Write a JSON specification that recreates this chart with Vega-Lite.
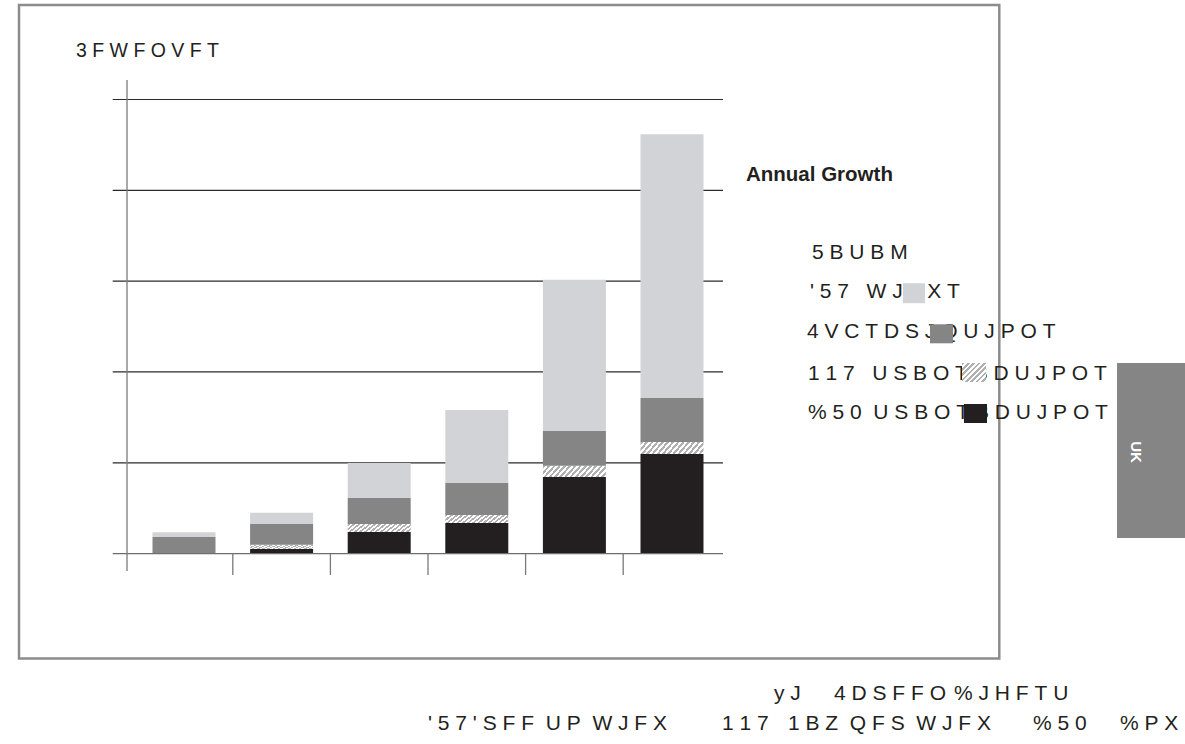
{
  "$schema": "https://vega.github.io/schema/vega-lite/v6.json",
  "width": 1185,
  "height": 744,
  "autosize": {"type": "none"},
  "padding": 0,
  "background": "white",
  "config": {"view": {"stroke": null}, "font": "Liberation Sans", "text": {"font": "Liberation Sans", "color": "#231f20"}},
  "datasets": {
    "revenues": [
      {"period": 1, "series": "DTO", "rank": 1, "value": 0},
      {"period": 1, "series": "PPV", "rank": 2, "value": 0},
      {"period": 1, "series": "Subscriptions", "rank": 3, "value": 1.82},
      {"period": 1, "series": "FTV", "rank": 4, "value": 0.52},
      {"period": 2, "series": "DTO", "rank": 1, "value": 0.5},
      {"period": 2, "series": "PPV", "rank": 2, "value": 0.47},
      {"period": 2, "series": "Subscriptions", "rank": 3, "value": 2.28},
      {"period": 2, "series": "FTV", "rank": 4, "value": 1.25},
      {"period": 3, "series": "DTO", "rank": 1, "value": 2.37},
      {"period": 3, "series": "PPV", "rank": 2, "value": 0.88},
      {"period": 3, "series": "Subscriptions", "rank": 3, "value": 2.87},
      {"period": 3, "series": "FTV", "rank": 4, "value": 3.86},
      {"period": 4, "series": "DTO", "rank": 1, "value": 3.36},
      {"period": 4, "series": "PPV", "rank": 2, "value": 0.88},
      {"period": 4, "series": "Subscriptions", "rank": 3, "value": 3.53},
      {"period": 4, "series": "FTV", "rank": 4, "value": 8.05},
      {"period": 5, "series": "DTO", "rank": 1, "value": 8.43},
      {"period": 5, "series": "PPV", "rank": 2, "value": 1.25},
      {"period": 5, "series": "Subscriptions", "rank": 3, "value": 3.83},
      {"period": 5, "series": "FTV", "rank": 4, "value": 16.65},
      {"period": 6, "series": "DTO", "rank": 1, "value": 10.97},
      {"period": 6, "series": "PPV", "rank": 2, "value": 1.32},
      {"period": 6, "series": "Subscriptions", "rank": 3, "value": 4.85},
      {"period": 6, "series": "FTV", "rank": 4, "value": 29.03}
    ]
  },
  "layer": [
    {
      "data": {"values": [{}]},
      "mark": {"type": "rect", "fillOpacity": 0, "stroke": "#8c8c8c", "strokeWidth": 2.5},
      "encoding": {
        "x": {"datum": -0.6905, "type": "quantitative", "scale": {"domain": [-0.8852, 11.2562], "nice": false, "zero": false, "padding": 0}, "axis": null},
        "x2": {"datum": 9.3535},
        "y": {"datum": 60.405, "type": "quantitative", "scale": {"domain": [-20.965, 60.956], "nice": false, "zero": false, "padding": 0}, "axis": null},
        "y2": {"datum": -11.55}
      }
    },
    {
      "data": {"values": [{"g": 10}, {"g": 20}, {"g": 30}, {"g": 40}, {"g": 50}]},
      "mark": {"type": "rule", "color": "#2a2a2a", "strokeWidth": 1.2},
      "encoding": {
        "x": {"datum": 0.2695, "type": "quantitative", "scale": {"domain": [-0.8852, 11.2562], "nice": false, "zero": false, "padding": 0}, "axis": null},
        "x2": {"datum": 6.5226},
        "y": {"field": "g", "type": "quantitative", "scale": {"domain": [-20.965, 60.956], "nice": false, "zero": false, "padding": 0}, "axis": null}
      }
    },
    {
      "data": {"name": "revenues"},
      "transform": [{"stack": "value", "groupby": ["period"], "sort": [{"field": "rank", "order": "ascending"}], "as": ["v0", "v1"]}],
      "layer": [
        {
          "transform": [{"filter": "datum.series === 'DTO'"}],
          "mark": {"type": "bar", "width": 63, "color": "#231f20"},
          "encoding": {
            "x": {"field": "period", "type": "quantitative", "scale": {"domain": [-0.8852, 11.2562], "nice": false, "zero": false, "padding": 0}, "axis": null},
            "y": {"field": "v0", "type": "quantitative", "scale": {"domain": [-20.965, 60.956], "nice": false, "zero": false, "padding": 0}, "axis": null},
            "y2": {"field": "v1"}
          }
        },
        {
          "transform": [{"filter": "datum.series === 'PPV'"}],
          "mark": {"type": "bar", "width": 63, "color": {"gradient": "linear", "x1": 0, "y1": 0, "x2": 1.131, "y2": 0.181, "stops": [
            {"offset": 0, "color": "#b0b0b0"}, {"offset": 0.0357, "color": "#b0b0b0"}, {"offset": 0.0357, "color": "#ffffff"}, {"offset": 0.0714, "color": "#ffffff"},
            {"offset": 0.0714, "color": "#b0b0b0"}, {"offset": 0.1071, "color": "#b0b0b0"}, {"offset": 0.1071, "color": "#ffffff"}, {"offset": 0.1429, "color": "#ffffff"},
            {"offset": 0.1429, "color": "#b0b0b0"}, {"offset": 0.1786, "color": "#b0b0b0"}, {"offset": 0.1786, "color": "#ffffff"}, {"offset": 0.2143, "color": "#ffffff"},
            {"offset": 0.2143, "color": "#b0b0b0"}, {"offset": 0.25, "color": "#b0b0b0"}, {"offset": 0.25, "color": "#ffffff"}, {"offset": 0.2857, "color": "#ffffff"},
            {"offset": 0.2857, "color": "#b0b0b0"}, {"offset": 0.3214, "color": "#b0b0b0"}, {"offset": 0.3214, "color": "#ffffff"}, {"offset": 0.3571, "color": "#ffffff"},
            {"offset": 0.3571, "color": "#b0b0b0"}, {"offset": 0.3929, "color": "#b0b0b0"}, {"offset": 0.3929, "color": "#ffffff"}, {"offset": 0.4286, "color": "#ffffff"},
            {"offset": 0.4286, "color": "#b0b0b0"}, {"offset": 0.4643, "color": "#b0b0b0"}, {"offset": 0.4643, "color": "#ffffff"}, {"offset": 0.5, "color": "#ffffff"},
            {"offset": 0.5, "color": "#b0b0b0"}, {"offset": 0.5357, "color": "#b0b0b0"}, {"offset": 0.5357, "color": "#ffffff"}, {"offset": 0.5714, "color": "#ffffff"},
            {"offset": 0.5714, "color": "#b0b0b0"}, {"offset": 0.6071, "color": "#b0b0b0"}, {"offset": 0.6071, "color": "#ffffff"}, {"offset": 0.6429, "color": "#ffffff"},
            {"offset": 0.6429, "color": "#b0b0b0"}, {"offset": 0.6786, "color": "#b0b0b0"}, {"offset": 0.6786, "color": "#ffffff"}, {"offset": 0.7143, "color": "#ffffff"},
            {"offset": 0.7143, "color": "#b0b0b0"}, {"offset": 0.75, "color": "#b0b0b0"}, {"offset": 0.75, "color": "#ffffff"}, {"offset": 0.7857, "color": "#ffffff"},
            {"offset": 0.7857, "color": "#b0b0b0"}, {"offset": 0.8214, "color": "#b0b0b0"}, {"offset": 0.8214, "color": "#ffffff"}, {"offset": 0.8571, "color": "#ffffff"},
            {"offset": 0.8571, "color": "#b0b0b0"}, {"offset": 0.8929, "color": "#b0b0b0"}, {"offset": 0.8929, "color": "#ffffff"}, {"offset": 0.9286, "color": "#ffffff"},
            {"offset": 0.9286, "color": "#b0b0b0"}, {"offset": 0.9643, "color": "#b0b0b0"}, {"offset": 0.9643, "color": "#ffffff"}, {"offset": 1, "color": "#ffffff"}
          ]}},
          "encoding": {
            "x": {"field": "period", "type": "quantitative", "scale": {"domain": [-0.8852, 11.2562], "nice": false, "zero": false, "padding": 0}, "axis": null},
            "y": {"field": "v0", "type": "quantitative", "scale": {"domain": [-20.965, 60.956], "nice": false, "zero": false, "padding": 0}, "axis": null},
            "y2": {"field": "v1"}
          }
        },
        {
          "transform": [{"filter": "datum.series === 'Subscriptions'"}],
          "mark": {"type": "bar", "width": 63, "color": "#858585"},
          "encoding": {
            "x": {"field": "period", "type": "quantitative", "scale": {"domain": [-0.8852, 11.2562], "nice": false, "zero": false, "padding": 0}, "axis": null},
            "y": {"field": "v0", "type": "quantitative", "scale": {"domain": [-20.965, 60.956], "nice": false, "zero": false, "padding": 0}, "axis": null},
            "y2": {"field": "v1"}
          }
        },
        {
          "transform": [{"filter": "datum.series === 'FTV'"}],
          "mark": {"type": "bar", "width": 63, "color": "#d2d3d6"},
          "encoding": {
            "x": {"field": "period", "type": "quantitative", "scale": {"domain": [-0.8852, 11.2562], "nice": false, "zero": false, "padding": 0}, "axis": null},
            "y": {"field": "v0", "type": "quantitative", "scale": {"domain": [-20.965, 60.956], "nice": false, "zero": false, "padding": 0}, "axis": null},
            "y2": {"field": "v1"}
          }
        }
      ]
    },
    {
      "data": {"values": [{"g": 0}]},
      "mark": {"type": "rule", "color": "#6e6e6e", "strokeWidth": 1.3},
      "encoding": {
        "x": {"datum": 0.2695, "type": "quantitative", "scale": {"domain": [-0.8852, 11.2562], "nice": false, "zero": false, "padding": 0}, "axis": null},
        "x2": {"datum": 6.5226},
        "y": {"field": "g", "type": "quantitative", "scale": {"domain": [-20.965, 60.956], "nice": false, "zero": false, "padding": 0}, "axis": null}
      }
    },
    {
      "data": {"values": [{}]},
      "mark": {"type": "rule", "color": "#7a7a7a", "strokeWidth": 1.3},
      "encoding": {
        "x": {"datum": 0.416, "type": "quantitative", "scale": {"domain": [-0.8852, 11.2562], "nice": false, "zero": false, "padding": 0}, "axis": null},
        "y": {"datum": 52.14, "type": "quantitative", "scale": {"domain": [-20.965, 60.956], "nice": false, "zero": false, "padding": 0}, "axis": null},
        "y2": {"datum": -1.916}
      }
    },
    {
      "data": {"values": [{"b": 1.5}, {"b": 2.5}, {"b": 3.5}, {"b": 4.5}, {"b": 5.5}]},
      "mark": {"type": "rule", "color": "#7a7a7a", "strokeWidth": 1.3},
      "encoding": {
        "x": {"field": "b", "type": "quantitative", "scale": {"domain": [-0.8852, 11.2562], "nice": false, "zero": false, "padding": 0}, "axis": null},
        "y": {"datum": 0, "type": "quantitative", "scale": {"domain": [-20.965, 60.956], "nice": false, "zero": false, "padding": 0}, "axis": null},
        "y2": {"datum": -2.356}
      }
    },
    {
      "data": {"values": [{}]},
      "mark": {"type": "text", "align": "left", "baseline": "alphabetic", "fontSize": 19.5, "text": "3\u00a0F\u00a0W\u00a0F\u00a0O\u00a0V\u00a0F\u00a0T"},
      "encoding": {
        "x": {"datum": -0.1065, "type": "quantitative", "scale": {"domain": [-0.8852, 11.2562], "nice": false, "zero": false, "padding": 0}, "axis": null},
        "y": {"datum": 54.68, "type": "quantitative", "scale": {"domain": [-20.965, 60.956], "nice": false, "zero": false, "padding": 0}, "axis": null}
      }
    },
    {
      "data": {"values": [{}]},
      "mark": {"type": "text", "align": "left", "baseline": "alphabetic", "fontSize": 20.5, "fontWeight": "bold", "text": "Annual Growth"},
      "encoding": {
        "x": {"datum": 6.7582, "type": "quantitative", "scale": {"domain": [-0.8852, 11.2562], "nice": false, "zero": false, "padding": 0}, "axis": null},
        "y": {"datum": 41.026, "type": "quantitative", "scale": {"domain": [-20.965, 60.956], "nice": false, "zero": false, "padding": 0}, "axis": null}
      }
    },
    {
      "data": {"values": [{}]},
      "mark": {"type": "text", "align": "left", "baseline": "alphabetic", "fontSize": 21, "text": "5\u00a0B\u00a0U\u00a0B\u00a0M"},
      "encoding": {
        "x": {"datum": 7.4345, "type": "quantitative", "scale": {"domain": [-0.8852, 11.2562], "nice": false, "zero": false, "padding": 0}, "axis": null},
        "y": {"datum": 32.438, "type": "quantitative", "scale": {"domain": [-20.965, 60.956], "nice": false, "zero": false, "padding": 0}, "axis": null}
      }
    },
    {
      "data": {"values": [{}]},
      "mark": {"type": "text", "align": "left", "baseline": "alphabetic", "fontSize": 21, "text": "'\u00a05\u00a07\u00a0\u00a0\u00a0W\u00a0J\u00a0F\u00a0X\u00a0T"},
      "encoding": {
        "x": {"datum": 7.414, "type": "quantitative", "scale": {"domain": [-0.8852, 11.2562], "nice": false, "zero": false, "padding": 0}, "axis": null},
        "y": {"datum": 28.144, "type": "quantitative", "scale": {"domain": [-20.965, 60.956], "nice": false, "zero": false, "padding": 0}, "axis": null}
      }
    },
    {
      "data": {"values": [{}]},
      "mark": {"type": "text", "align": "left", "baseline": "alphabetic", "fontSize": 21, "text": "4\u00a0V\u00a0C\u00a0T\u00a0D\u00a0S\u00a0J\u00a0Q\u00a0U\u00a0J\u00a0P\u00a0O\u00a0T"},
      "encoding": {
        "x": {"datum": 7.3832, "type": "quantitative", "scale": {"domain": [-0.8852, 11.2562], "nice": false, "zero": false, "padding": 0}, "axis": null},
        "y": {"datum": 23.739, "type": "quantitative", "scale": {"domain": [-20.965, 60.956], "nice": false, "zero": false, "padding": 0}, "axis": null}
      }
    },
    {
      "data": {"values": [{}]},
      "mark": {"type": "text", "align": "left", "baseline": "alphabetic", "fontSize": 21, "text": "1\u00a01\u00a07\u00a0\u00a0\u00a0U\u00a0S\u00a0B\u00a0O\u00a0T\u00a0B\u00a0D\u00a0U\u00a0J\u00a0P\u00a0O\u00a0T"},
      "encoding": {
        "x": {"datum": 7.3935, "type": "quantitative", "scale": {"domain": [-0.8852, 11.2562], "nice": false, "zero": false, "padding": 0}, "axis": null},
        "y": {"datum": 19.115, "type": "quantitative", "scale": {"domain": [-20.965, 60.956], "nice": false, "zero": false, "padding": 0}, "axis": null}
      }
    },
    {
      "data": {"values": [{}]},
      "mark": {"type": "text", "align": "left", "baseline": "alphabetic", "fontSize": 21, "text": "%\u00a05\u00a00\u00a0\u00a0U\u00a0S\u00a0B\u00a0O\u00a0T\u00a0B\u00a0D\u00a0U\u00a0J\u00a0P\u00a0O\u00a0T"},
      "encoding": {
        "x": {"datum": 7.3935, "type": "quantitative", "scale": {"domain": [-0.8852, 11.2562], "nice": false, "zero": false, "padding": 0}, "axis": null},
        "y": {"datum": 14.821, "type": "quantitative", "scale": {"domain": [-20.965, 60.956], "nice": false, "zero": false, "padding": 0}, "axis": null}
      }
    },
    {
      "data": {"values": [{}]},
      "mark": {"type": "rect", "color": "#d2d3d6"},
      "encoding": {
        "x": {"datum": 8.3668, "type": "quantitative", "scale": {"domain": [-0.8852, 11.2562], "nice": false, "zero": false, "padding": 0}, "axis": null},
        "x2": {"datum": 8.5922},
        "y": {"datum": 29.773, "type": "quantitative", "scale": {"domain": [-20.965, 60.956], "nice": false, "zero": false, "padding": 0}, "axis": null},
        "y2": {"datum": 27.571}
      }
    },
    {
      "data": {"values": [{}]},
      "mark": {"type": "rect", "color": "#858585"},
      "encoding": {
        "x": {"datum": 8.6434, "type": "quantitative", "scale": {"domain": [-0.8852, 11.2562], "nice": false, "zero": false, "padding": 0}, "axis": null},
        "x2": {"datum": 8.879},
        "y": {"datum": 25.248, "type": "quantitative", "scale": {"domain": [-20.965, 60.956], "nice": false, "zero": false, "padding": 0}, "axis": null},
        "y2": {"datum": 23.156}
      }
    },
    {
      "data": {"values": [{}]},
      "mark": {"type": "rect", "color": {"gradient": "linear", "x1": 0, "y1": 0, "x2": 1.102, "y2": 0.871, "stops": [
        {"offset": 0, "color": "#b0b0b0"}, {"offset": 0.0625, "color": "#b0b0b0"}, {"offset": 0.0625, "color": "#ffffff"}, {"offset": 0.125, "color": "#ffffff"},
        {"offset": 0.125, "color": "#b0b0b0"}, {"offset": 0.1875, "color": "#b0b0b0"}, {"offset": 0.1875, "color": "#ffffff"}, {"offset": 0.25, "color": "#ffffff"},
        {"offset": 0.25, "color": "#b0b0b0"}, {"offset": 0.3125, "color": "#b0b0b0"}, {"offset": 0.3125, "color": "#ffffff"}, {"offset": 0.375, "color": "#ffffff"},
        {"offset": 0.375, "color": "#b0b0b0"}, {"offset": 0.4375, "color": "#b0b0b0"}, {"offset": 0.4375, "color": "#ffffff"}, {"offset": 0.5, "color": "#ffffff"},
        {"offset": 0.5, "color": "#b0b0b0"}, {"offset": 0.5625, "color": "#b0b0b0"}, {"offset": 0.5625, "color": "#ffffff"}, {"offset": 0.625, "color": "#ffffff"},
        {"offset": 0.625, "color": "#b0b0b0"}, {"offset": 0.6875, "color": "#b0b0b0"}, {"offset": 0.6875, "color": "#ffffff"}, {"offset": 0.75, "color": "#ffffff"},
        {"offset": 0.75, "color": "#b0b0b0"}, {"offset": 0.8125, "color": "#b0b0b0"}, {"offset": 0.8125, "color": "#ffffff"}, {"offset": 0.875, "color": "#ffffff"},
        {"offset": 0.875, "color": "#b0b0b0"}, {"offset": 0.9375, "color": "#b0b0b0"}, {"offset": 0.9375, "color": "#ffffff"}, {"offset": 1, "color": "#ffffff"}
      ]}},
      "encoding": {
        "x": {"datum": 8.9713, "type": "quantitative", "scale": {"domain": [-0.8852, 11.2562], "nice": false, "zero": false, "padding": 0}, "axis": null},
        "x2": {"datum": 9.2172},
        "y": {"datum": 20.987, "type": "quantitative", "scale": {"domain": [-20.965, 60.956], "nice": false, "zero": false, "padding": 0}, "axis": null},
        "y2": {"datum": 18.895}
      }
    },
    {
      "data": {"values": [{}]},
      "mark": {"type": "rect", "color": "#231f20"},
      "encoding": {
        "x": {"datum": 8.9918, "type": "quantitative", "scale": {"domain": [-0.8852, 11.2562], "nice": false, "zero": false, "padding": 0}, "axis": null},
        "x2": {"datum": 9.2275},
        "y": {"datum": 16.472, "type": "quantitative", "scale": {"domain": [-20.965, 60.956], "nice": false, "zero": false, "padding": 0}, "axis": null},
        "y2": {"datum": 14.38}
      }
    },
    {
      "data": {"values": [{}]},
      "mark": {"type": "rect", "color": "#858585"},
      "encoding": {
        "x": {"datum": 10.5595, "type": "quantitative", "scale": {"domain": [-0.8852, 11.2562], "nice": false, "zero": false, "padding": 0}, "axis": null},
        "x2": {"datum": 11.3074},
        "y": {"datum": 20.987, "type": "quantitative", "scale": {"domain": [-20.965, 60.956], "nice": false, "zero": false, "padding": 0}, "axis": null},
        "y2": {"datum": 1.718}
      }
    },
    {
      "data": {"values": [{}]},
      "mark": {"type": "text", "align": "center", "baseline": "middle", "angle": 90, "fontSize": 15, "fontWeight": "bold", "color": "#ffffff", "text": "UK"},
      "encoding": {
        "x": {"datum": 10.7541, "type": "quantitative", "scale": {"domain": [-0.8852, 11.2562], "nice": false, "zero": false, "padding": 0}, "axis": null},
        "y": {"datum": 11.187, "type": "quantitative", "scale": {"domain": [-20.965, 60.956], "nice": false, "zero": false, "padding": 0}, "axis": null}
      }
    },
    {
      "data": {"values": [{}]},
      "mark": {"type": "text", "align": "left", "baseline": "alphabetic", "fontSize": 21, "text": "y\u00a0J"},
      "encoding": {
        "x": {"datum": 7.0451, "type": "quantitative", "scale": {"domain": [-0.8852, 11.2562], "nice": false, "zero": false, "padding": 0}, "axis": null},
        "y": {"datum": -16.175, "type": "quantitative", "scale": {"domain": [-20.965, 60.956], "nice": false, "zero": false, "padding": 0}, "axis": null}
      }
    },
    {
      "data": {"values": [{}]},
      "mark": {"type": "text", "align": "left", "baseline": "alphabetic", "fontSize": 21, "text": "4\u00a0D\u00a0S\u00a0F\u00a0F\u00a0O"},
      "encoding": {
        "x": {"datum": 7.6598, "type": "quantitative", "scale": {"domain": [-0.8852, 11.2562], "nice": false, "zero": false, "padding": 0}, "axis": null},
        "y": {"datum": -16.175, "type": "quantitative", "scale": {"domain": [-20.965, 60.956], "nice": false, "zero": false, "padding": 0}, "axis": null}
      }
    },
    {
      "data": {"values": [{}]},
      "mark": {"type": "text", "align": "left", "baseline": "alphabetic", "fontSize": 21, "text": "%\u00a0J\u00a0H\u00a0F\u00a0T\u00a0U"},
      "encoding": {
        "x": {"datum": 8.8893, "type": "quantitative", "scale": {"domain": [-0.8852, 11.2562], "nice": false, "zero": false, "padding": 0}, "axis": null},
        "y": {"datum": -16.175, "type": "quantitative", "scale": {"domain": [-20.965, 60.956], "nice": false, "zero": false, "padding": 0}, "axis": null}
      }
    },
    {
      "data": {"values": [{}]},
      "mark": {"type": "text", "align": "left", "baseline": "alphabetic", "fontSize": 21, "text": "'\u00a05\u00a07\u00a0'\u00a0S\u00a0F\u00a0F\u00a0\u00a0U\u00a0P\u00a0\u00a0W\u00a0J\u00a0F\u00a0X"},
      "encoding": {
        "x": {"datum": 3.4999, "type": "quantitative", "scale": {"domain": [-0.8852, 11.2562], "nice": false, "zero": false, "padding": 0}, "axis": null},
        "y": {"datum": -19.478, "type": "quantitative", "scale": {"domain": [-20.965, 60.956], "nice": false, "zero": false, "padding": 0}, "axis": null}
      }
    },
    {
      "data": {"values": [{}]},
      "mark": {"type": "text", "align": "left", "baseline": "alphabetic", "fontSize": 21, "text": "1\u00a01\u00a07"},
      "encoding": {
        "x": {"datum": 6.5123, "type": "quantitative", "scale": {"domain": [-0.8852, 11.2562], "nice": false, "zero": false, "padding": 0}, "axis": null},
        "y": {"datum": -19.478, "type": "quantitative", "scale": {"domain": [-20.965, 60.956], "nice": false, "zero": false, "padding": 0}, "axis": null}
      }
    },
    {
      "data": {"values": [{}]},
      "mark": {"type": "text", "align": "left", "baseline": "alphabetic", "fontSize": 21, "text": "1\u00a0B\u00a0Z\u00a0\u00a0Q\u00a0F\u00a0S\u00a0\u00a0W\u00a0J\u00a0F\u00a0X"},
      "encoding": {
        "x": {"datum": 7.1885, "type": "quantitative", "scale": {"domain": [-0.8852, 11.2562], "nice": false, "zero": false, "padding": 0}, "axis": null},
        "y": {"datum": -19.478, "type": "quantitative", "scale": {"domain": [-20.965, 60.956], "nice": false, "zero": false, "padding": 0}, "axis": null}
      }
    },
    {
      "data": {"values": [{}]},
      "mark": {"type": "text", "align": "left", "baseline": "alphabetic", "fontSize": 21, "text": "%\u00a05\u00a00"},
      "encoding": {
        "x": {"datum": 9.6988, "type": "quantitative", "scale": {"domain": [-0.8852, 11.2562], "nice": false, "zero": false, "padding": 0}, "axis": null},
        "y": {"datum": -19.478, "type": "quantitative", "scale": {"domain": [-20.965, 60.956], "nice": false, "zero": false, "padding": 0}, "axis": null}
      }
    },
    {
      "data": {"values": [{}]},
      "mark": {"type": "text", "align": "left", "baseline": "alphabetic", "fontSize": 21, "text": "%\u00a0P\u00a0X"},
      "encoding": {
        "x": {"datum": 10.5902, "type": "quantitative", "scale": {"domain": [-0.8852, 11.2562], "nice": false, "zero": false, "padding": 0}, "axis": null},
        "y": {"datum": -19.478, "type": "quantitative", "scale": {"domain": [-20.965, 60.956], "nice": false, "zero": false, "padding": 0}, "axis": null}
      }
    }
  ]
}
